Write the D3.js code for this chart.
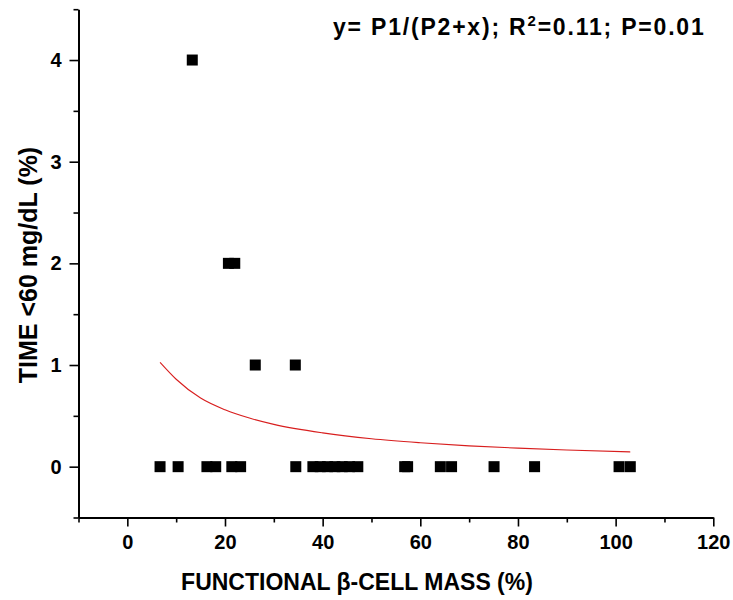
<!DOCTYPE html>
<html>
<head>
<meta charset="utf-8">
<script src="https://cdn.jsdelivr.net/npm/d3@7"></script>
<style>
  html, body { margin: 0; padding: 0; background: #fff; }
  svg { display: block; }
  text { font-family: "Liberation Sans", Arial, sans-serif; }
</style>
</head>
<body>
<svg id="chart" width="733" height="600"></svg>
<script>
// ---- data ----
const massX = [13.3, 20.7, 22.0, 26.2, 34.4,
  6.7, 10.4, 16.3, 18.1, 21.4, 23.2, 34.5,
  38.0, 39.5, 41.0, 42.5, 44.0, 45.5, 47.2,
  56.8, 57.4, 64.1, 66.4, 75.1, 83.4, 100.7, 103.0];
const timeY = [4, 2, 2, 1, 1,
  0, 0, 0, 0, 0, 0, 0,
  0, 0, 0, 0, 0, 0, 0,
  0, 0, 0, 0, 0, 0, 0, 0];
const fitX = [6.7, 10, 15, 20, 25, 30, 40, 50, 60, 70, 80, 90, 103];
const fitY = [1.026, 0.86, 0.675, 0.56, 0.478, 0.416, 0.332, 0.274, 0.235, 0.205, 0.182, 0.164, 0.145];
const xMajor = [0, 20, 40, 60, 80, 100, 120];
const xMinor = [-10, 10, 30, 50, 70, 90, 110];
const yMajor = [0, 1, 2, 3, 4];
const yMinor = [-0.5, 0.5, 1.5, 2.5, 3.5, 4.5];
const xTitle = "FUNCTIONAL β-CELL MASS (%)";
const yTitle = "TIME <60 mg/dL (%)";

const svg = d3.select("#chart");
const x = d3.scaleLinear().domain([-10, 120]).range([78.5, 713.3]);
const y = d3.scaleLinear().domain([-0.5, 4.5]).range([517.5, 9.2]);

// minor ticks
svg.append("g").attr("transform", `translate(0,${y(-0.5)})`)
  .call(d3.axisBottom(x).tickValues(xMinor).tickSize(5).tickSizeOuter(0).tickFormat(""))
  .call(g => g.select(".domain").remove())
  .call(g => g.selectAll("line").attr("stroke", "#000").attr("stroke-width", 1.6));
svg.append("g").attr("transform", `translate(${x(-10)},0)`)
  .call(d3.axisLeft(y).tickValues(yMinor).tickSize(5).tickSizeOuter(0).tickFormat(""))
  .call(g => g.select(".domain").remove())
  .call(g => g.selectAll("line").attr("stroke", "#000").attr("stroke-width", 1.6));

// major axes
const xAxis = svg.append("g").attr("transform", `translate(0,${y(-0.5)})`)
  .call(d3.axisBottom(x).tickValues(xMajor).tickSize(9).tickSizeOuter(0).tickPadding(8).tickFormat(d3.format("d")));
const yAxis = svg.append("g").attr("transform", `translate(${x(-10)},0)`)
  .call(d3.axisLeft(y).tickValues(yMajor).tickSize(9).tickSizeOuter(0).tickPadding(8).tickFormat(d3.format("d")));
[xAxis, yAxis].forEach(g => {
  g.select(".domain").attr("stroke", "#000").attr("stroke-width", 2);
  g.selectAll("line").attr("stroke", "#000").attr("stroke-width", 1.6);
  g.selectAll("text").attr("fill", "#000")
    .style("font-family", '"Liberation Sans", Arial, sans-serif')
    .style("font-size", "20px").style("font-weight", "bold");
});

// fit curve
const line = d3.line().x((d, i) => x(fitX[i])).y((d, i) => y(fitY[i])).curve(d3.curveMonotoneX);
svg.append("path").datum(fitX).attr("d", line)
  .attr("fill", "none").attr("stroke", "#d81e1e").attr("stroke-width", 1.1);

// points
const s = 11;
svg.append("g").selectAll("rect").data(massX).join("rect")
  .attr("x", (d) => x(d) - s / 2)
  .attr("y", (d, i) => y(timeY[i]) - s / 2)
  .attr("width", s).attr("height", s).attr("fill", "#000");

// titles
svg.append("text").attr("x", 357).attr("y", 590).attr("text-anchor", "middle")
  .style("font-size", "23px").style("font-weight", "bold").text(xTitle);
svg.append("text").attr("transform", "translate(37,265) rotate(-90)").attr("text-anchor", "middle")
  .style("font-size", "25px").style("font-weight", "bold").text(yTitle);

// equation
const eq = svg.append("text").attr("x", 333).attr("y", 35)
  .style("font-size", "23px").style("font-weight", "bold").style("letter-spacing", "1.8px");
eq.append("tspan").text("y= P1/(P2+x); R");
eq.append("tspan").attr("dy", -9).style("font-size", "15px").text("2");
eq.append("tspan").attr("dy", 9).text("=0.11; P=0.01");
</script>
</body>
</html>
